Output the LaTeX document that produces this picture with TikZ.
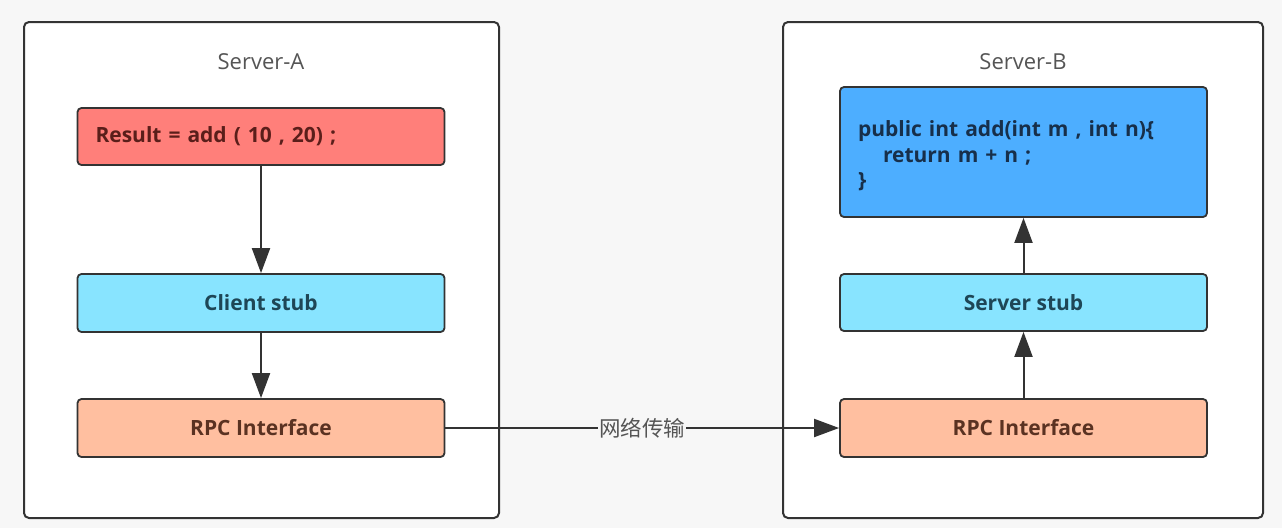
\documentclass[tikz,border=0pt]{standalone}
\usepackage{fontspec}
\setmainfont{Open Sans}
\newfontfamily\cjk{Noto Sans CJK SC}
\usetikzlibrary{arrows.meta}
\definecolor{bg}{HTML}{F7F7F7}
\definecolor{edge}{HTML}{333333}
\definecolor{redfill}{HTML}{FF7F7A}
\definecolor{redtext}{HTML}{5A1E1A}
\definecolor{cyanfill}{HTML}{88E4FF}
\definecolor{cyantext}{HTML}{1E4656}
\definecolor{salmonfill}{HTML}{FFBFA0}
\definecolor{salmontext}{HTML}{5A3222}
\definecolor{bluefill}{HTML}{4DAEFF}
\definecolor{bluetext}{HTML}{172F4A}
\definecolor{labelgrey}{HTML}{555555}
\tikzset{
  server/.style={draw=edge, line width=2pt, fill=white, rounded corners=5pt,
    minimum height=496pt, inner sep=0pt},
  srvlabel/.style={text=labelgrey, font=\fontsize{22}{26}\selectfont, inner sep=0pt},
  box/.style={draw=edge, line width=1.8pt, rounded corners=4pt,
    minimum width=367pt, minimum height=58pt, inner sep=0pt,
    font=\bfseries\fontsize{21}{25}\selectfont},
  codebox/.style={box, align=left, text width=331pt, inner xsep=18pt},
  arr/.style={draw=edge, line width=2pt, -{Triangle[length=25pt, width=18pt]}},
}
\begin{document}
\begin{tikzpicture}[x=1pt, y=-1pt]
\useasboundingbox (0,0) rectangle (1282,528);
\fill[bg] (0,0) rectangle (1282,528);

\node[server, minimum width=475pt] (srvA) at (261.5,270) {};
\node[server, minimum width=480pt] (srvB) at (1023,270) {};
\node[srvlabel] (labA) at (261,62) {Server-A};
\node[srvlabel] (labB) at (1023,62) {Server-B};

\node[codebox, fill=redfill, text=redtext, minimum height=57pt] (res) at (261,136.5) {Result = add ( 10 , 20) ;};
\node[box, fill=cyanfill, text=cyantext] (cstub) at (261,303) {Client stub};
\node[box, fill=salmonfill, text=salmontext] (rpcA) at (261,428) {RPC Interface};

\node[codebox, fill=bluefill, text=bluetext, minimum height=130pt,
  font=\bfseries\fontsize{21}{25.5}\selectfont] (code) at (1023.5,152)
  {\rule{0pt}{24pt}public int add(int m , int n)\{\\\hspace*{25pt}return m + n ;\\\}};
\node[box, fill=cyanfill, text=cyantext, minimum height=57pt] (sstub) at (1023.5,302.5) {Server stub};
\node[box, fill=salmonfill, text=salmontext] (rpcB) at (1023.5,428) {RPC Interface};

\draw[arr] (res) -- (cstub);
\draw[arr] (cstub) -- (rpcA);
\draw[arr] (rpcA) -- node[fill=bg, inner sep=1pt, text=labelgrey, font=\cjk\fontsize{21.5}{24}\selectfont] (net) {网络传输} (rpcB);
\draw[arr] (rpcB) -- (sstub);
\draw[arr] (sstub) -- (code);
\end{tikzpicture}
\end{document}
